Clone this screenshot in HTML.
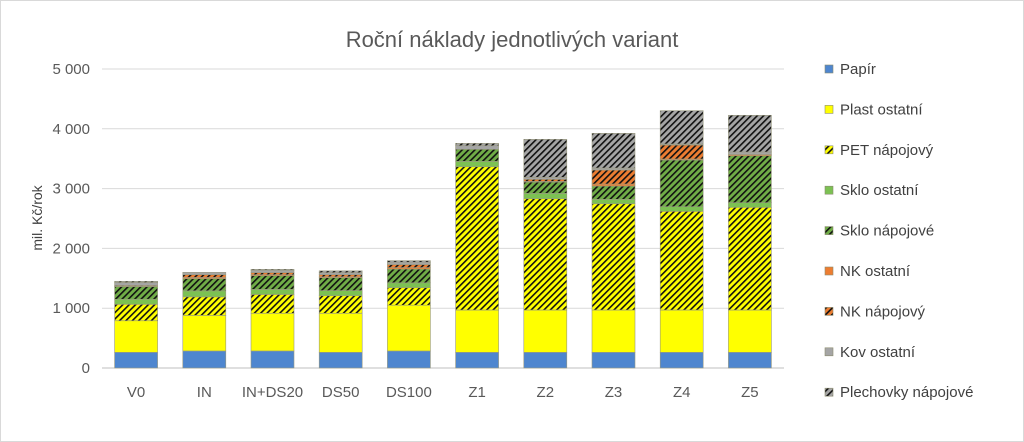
<!DOCTYPE html>
<html><head><meta charset="utf-8"><style>
body{margin:0;background:#fff;font-family:"Liberation Sans",sans-serif}
svg{display:block}
</style></head><body>
<svg id="c" width="1024" height="442">
<defs>
<pattern id="hY" patternUnits="userSpaceOnUse" width="4.5" height="4.5" patternTransform="rotate(45)"><rect width="4.5" height="4.5" fill="#ffff00"/><rect width="1.6" height="4.5" fill="#111"/></pattern>
<pattern id="hG" patternUnits="userSpaceOnUse" width="4.5" height="4.5" patternTransform="rotate(45)"><rect width="4.5" height="4.5" fill="#70ad47"/><rect width="1.6" height="4.5" fill="#111"/></pattern>
<pattern id="hO" patternUnits="userSpaceOnUse" width="4.5" height="4.5" patternTransform="rotate(45)"><rect width="4.5" height="4.5" fill="#ed7d31"/><rect width="1.6" height="4.5" fill="#111"/></pattern>
<pattern id="hK" patternUnits="userSpaceOnUse" width="4.5" height="4.5" patternTransform="rotate(45)"><rect width="4.5" height="4.5" fill="#a5a5a5"/><rect width="1.6" height="4.5" fill="#111"/></pattern>
</defs>
<rect x="0.5" y="0.5" width="1023" height="441" fill="#fff" stroke="#d9d9d9"/>
<text x="512" y="47" text-anchor="middle" font-size="22" fill="#595959">Roční náklady jednotlivých variant</text>
<text transform="translate(42,218) rotate(-90)" text-anchor="middle" font-size="14" fill="#404040">mil. Kč/rok</text>
<g id="grid"></g><g id="bars"></g><g id="legend"></g>
</svg>
<script>
const categories=["V0","IN","IN+DS20","DS50","DS100","Z1","Z2","Z3","Z4","Z5"];
const seriesNames=["Papír","Plast ostatní","PET nápojový","Sklo ostatní","Sklo nápojové","NK ostatní","NK nápojový","Kov ostatní","Plechovky nápojové"];
const papir=[262,285,285,262,285,262,262,262,262,262];
const plastOstatni=[528,595,630,653,765,708,708,708,708,708];
const petNapojovy=[275,310,315,295,295,2396,1861,1777,1650,1717];
const skloOstatni=[85,100,85,85,80,90,90,74,78,78];
const skloNapojove=[210,205,230,215,230,201,189,222,780,785];
const nkOstatni=[5,20,15,15,25,0,10,34,17,20];
const nkNapojovy=[15,45,35,35,50,0,35,234,234,0];
const kovOstatni=[50,40,40,35,40,60,34,33,17,42];
const plechovky=[20,0,15,30,25,40,635,580,557,614];
const yTicks=[0,1000,2000,3000,4000,5000];
const yTickLabels=["0","1 000","2 000","3 000","4 000","5 000"];
const series=[papir,plastOstatni,petNapojovy,skloOstatni,skloNapojove,nkOstatni,nkNapojovy,kovOstatni,plechovky];
const fills=["#4e86cf","#ffff00","url(#hY)","#7cc153","url(#hG)","#ed7d31","url(#hO)","#a5a5a5","url(#hK)"];
const NS="http://www.w3.org/2000/svg";
const x0=102,x1=784,yBase=368,yTop=69,yMax=5000;
const y=v=>yBase-v/yMax*(yBase-yTop);
const step=(x1-x0)/categories.length;
const xc=i=>x0+step*(i+0.5);
const bw=43;
function mk(t,a,p){const e=document.createElementNS(NS,t);for(const k in a)e.setAttribute(k,a[k]);p.appendChild(e);return e;}
const grid=document.getElementById('grid');
yTicks.forEach((t,i)=>{
 const l=mk('line',{x1:x0,x2:x1,y1:y(t),y2:y(t),stroke:i?'#d9d9d9':'#bfbfbf','stroke-width':1},grid);
 
 
 const tx=mk('text',{x:90,y:y(t)+5,'text-anchor':'end','font-size':15,fill:'#595959'},grid);
 tx.textContent=yTickLabels[i];
 
 
});
const bars=document.getElementById('bars');
categories.forEach((c,i)=>{
 let acc=0;
 series.forEach((s,j)=>{
  const v=s[i]; if(v<=0){return;}
  const r=mk('rect',{x:xc(i)-bw/2,y:y(acc+v),width:bw,height:y(acc)-y(acc+v),fill:fills[j],stroke:'#9a9a80','stroke-width':0.6},bars);
  
  
  acc+=v;
 });
 const t=mk('text',{x:xc(i),y:397,'text-anchor':'middle','font-size':15,fill:'#595959'},bars);
 t.textContent=c;
 
 
});
const lg=document.getElementById('legend');
seriesNames.forEach((n,j)=>{
 const yy=69+j*40.4;
 const r=mk('rect',{x:825,y:yy-4,width:8,height:8,fill:fills[j],stroke:'#8c8c70','stroke-width':0.6},lg);
 
 
 const t=mk('text',{x:840,y:yy+5,'font-size':15,fill:'#404040'},lg);
 t.textContent=n;
 
 
});
</script>
</body></html>
